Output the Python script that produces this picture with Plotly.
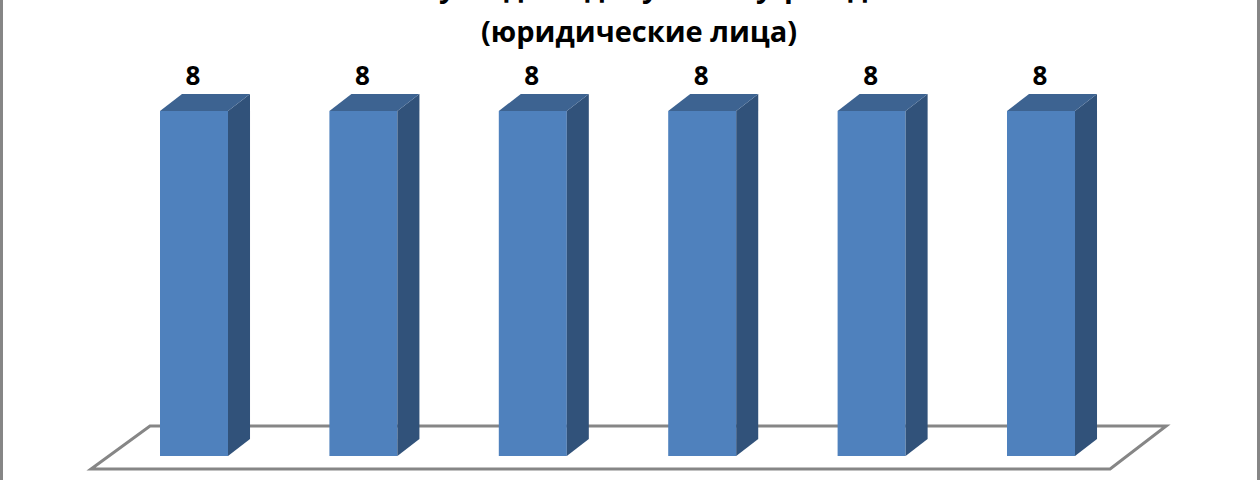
import plotly.graph_objects as go

# Данные диаграммы
categories = [0, 1, 2, 3, 4, 5]
values = [8, 8, 8, 8, 8, 8]
title_line = "(юридические лица)"
# от первой строки заголовка на снимке видны только нижние части букв
cut_title_glyphs = ["у", "д", "д", "у", "у", "р", "д"]
cut_title_px = [447, 513, 594, 650, 765, 793, 857]

W, H = 1260, 480
FRONT = "#4F81BD"
SIDE = "#31527A"
TOP = "#3D6391"
FRAME = "#868686"

BAR_WIDTH = 0.4014
DEPTH_X = 0.13
DEPTH_Y = 0.394
X_RANGE = [-1.1452, 6.2928]
Y_RANGE = [-0.5565, 10.574]

fig = go.Figure()

# Передние грани столбцов
fig.add_trace(go.Bar(
    x=categories,
    y=values,
    width=BAR_WIDTH,
    marker=dict(color=FRONT, line=dict(width=0)),
    hoverinfo="skip",
))

# Боковые и верхние грани (псевдо-3D)
for cat, val in zip(categories, values):
    left = cat - BAR_WIDTH / 2
    right = cat + BAR_WIDTH / 2
    fig.add_trace(go.Scatter(
        x=[right, right + DEPTH_X, right + DEPTH_X, right, right],
        y=[0, DEPTH_Y, val + DEPTH_Y, val, 0],
        mode="lines", fill="toself", fillcolor=SIDE,
        line=dict(width=0), hoverinfo="skip",
    ))
    fig.add_trace(go.Scatter(
        x=[left, left + DEPTH_X, right + DEPTH_X, right, left],
        y=[val, val + DEPTH_Y, val + DEPTH_Y, val, val],
        mode="lines", fill="toself", fillcolor=TOP,
        line=dict(width=0), hoverinfo="skip",
    ))

# Подписи значений
fig.add_trace(go.Scatter(
    x=[c - 0.006 for c in categories],
    y=[v + 0.76 for v in values],
    mode="text",
    text=[str(v) for v in values],
    textposition="middle center",
    textfont=dict(family="Open Sans", size=26, color="black", weight="bold"),
    hoverinfo="skip",
))

fig.update_layout(
    width=W,
    height=H,
    margin=dict(l=0, r=0, t=0, b=0),
    paper_bgcolor="white",
    plot_bgcolor="white",
    showlegend=False,
    xaxis=dict(range=X_RANGE, visible=False, fixedrange=True),
    yaxis=dict(range=Y_RANGE, visible=False, fixedrange=True),
)

# Пол диаграммы
fig.add_shape(
    type="path",
    path="M -0.6077 -0.3 L 5.408 -0.3 L 5.739 0.696 L -0.2597 0.696 Z",
    xref="x", yref="y", layer="below",
    line=dict(color=FRAME, width=3),
    fillcolor="white",
)

# Рамка по краям
for x0, x1 in [(0, 3 / W), (1257 / W, 1)]:
    fig.add_shape(
        type="rect", xref="paper", yref="paper",
        x0=x0, x1=x1, y0=0, y1=1,
        line=dict(width=0), fillcolor=FRAME,
    )

# Заголовок
fig.add_annotation(
    x=639 / W, y=1 - 30 / H, xref="paper", yref="paper",
    text=f"<b>{title_line}</b>", showarrow=False,
    xanchor="center", yanchor="middle",
    font=dict(family="Open Sans", size=29, color="black"),
)
for glyph, px in zip(cut_title_glyphs, cut_title_px):
    fig.add_annotation(
        x=px / W, y=1 - 3 / H, xref="paper", yref="paper",
        text=f"<b>{glyph}</b>", showarrow=False,
        xanchor="center", yanchor="bottom", yshift=-4,
        font=dict(family="Open Sans", size=29, color="black"),
    )

fig.write_html(
    "out.html",
    config={"displayModeBar": False},
    post_script="document.body.style.margin='0';document.body.style.overflow='hidden';",
)
